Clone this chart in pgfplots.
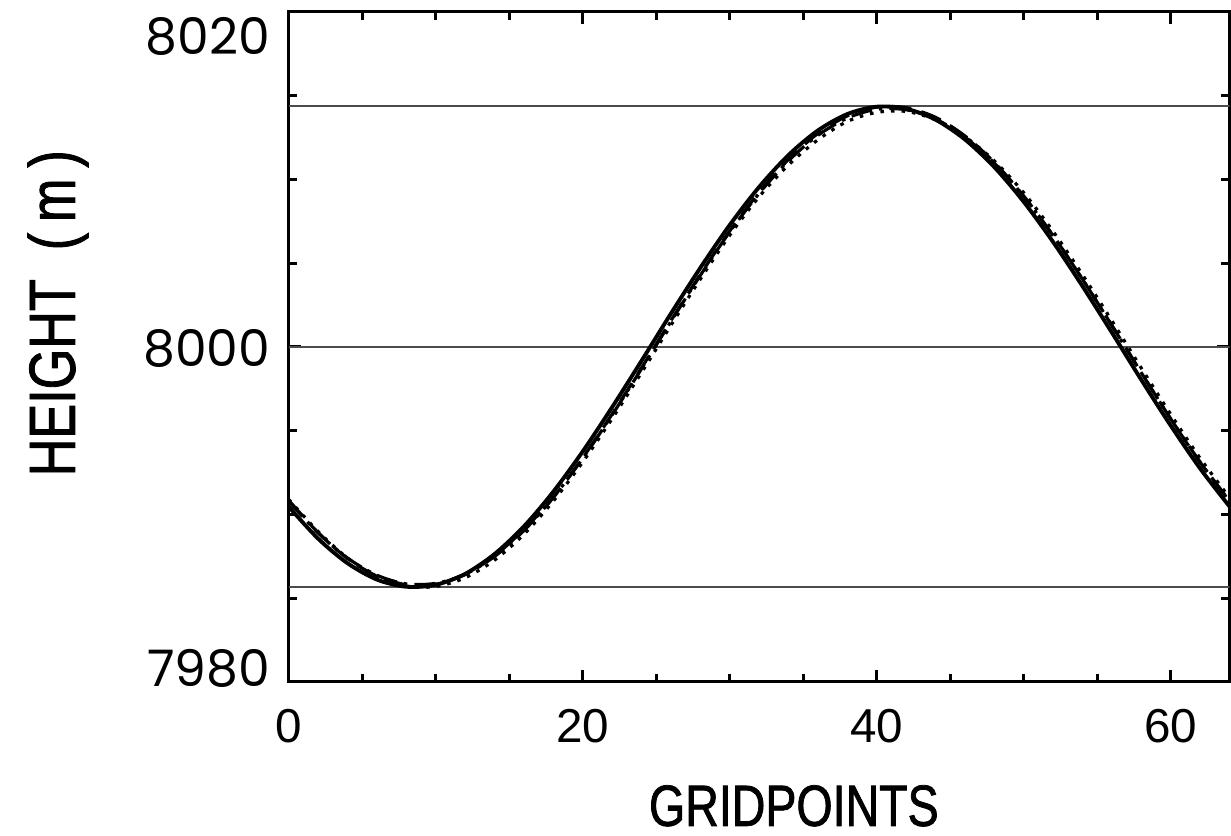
\documentclass[border=0pt]{standalone}
\usepackage{pgfplots}
\pgfplotsset{compat=1.18}
\usepackage{fontspec}
\setmainfont{Liberation Sans}
\newfontfamily\tickfont{Poppins}
\newfontfamily\labfont[FakeStretch=0.80, FakeBold=1.3]{Liberation Sans}

% height at each gridpoint (every second one), four runs
\pgfplotstableread{
x   ctl      dsh      dd       dot
0   7990.47  7990.85  7990.80  7990.90
2   7988.56  7988.92  7988.90  7988.99
4   7987.09  7987.37  7987.40  7987.40
6   7986.11  7986.32  7986.37  7986.29
8   7985.68  7985.80  7985.85  7985.72
10  7985.79  7985.83  7985.88  7985.69
12  7986.44  7986.40  7986.42  7986.21
14  7987.62  7987.51  7987.48  7987.26
16  7989.27  7989.09  7989.02  7988.80
18  7991.34  7991.00  7991.00  7990.78
20  7993.74  7993.36  7993.33  7993.11
22  7996.38  7995.97  7995.92  7995.70
24  7999.15  7998.73  7998.68  7998.45
26  8001.97  8001.55  8001.50  8001.27
28  8004.70  8004.30  8004.25  8004.03
30  8007.26  8006.90  8006.85  8006.65
32  8009.53  8009.21  8009.15  8008.95
34  8011.44  8011.18  8011.10  8010.85
36  8012.91  8012.73  8012.62  8012.35
38  8013.89  8013.78  8013.65  8013.45
40  8014.33  8014.31  8014.18  8013.99
42  8014.21  8014.27  8014.15  8014.05
44  8013.56  8013.70  8013.60  8013.55
46  8012.38  8012.59  8012.52  8012.55
48  8010.73  8011.01  8010.97  8011.10
50  8008.66  8009.00  8008.98  8009.20
52  8006.26  8006.64  8006.63  8006.89
54  8003.62  8004.03  8004.03  8004.30
56  8000.85  8001.27  8001.27  8001.55
58  7998.03  7998.45  7998.45  7998.73
60  7995.30  7995.70  7995.70  7995.97
62  7992.74  7993.10  7993.12  7993.35
64  7990.47  7990.79  7990.80  7991.00
}\runs

\begin{document}
\begin{tikzpicture}
\begin{axis}[scale only axis, width=93.8mm, height=66.8mm,
  xmin=0, xmax=64, ymin=7980, ymax=8020,
  axis line style={line width=0.85pt}, tick style={black, line width=0.85pt},
  xtick={0,20,40,60}, xticklabels={0,20,40,60}, minor x tick num=3,
  ytick={7980,8000,8020},
  yticklabels={\raisebox{-0.45mm}[0pt][0pt]{7980},\raisebox{-1.95mm}[0pt][0pt]{8000},\raisebox{-4.25mm}[0pt][0pt]{8020}},
  minor y tick num=3,
  major tick length=1.2mm, minor tick length=0.8mm,
  xticklabel style={font=\fontsize{13.5}{15}\selectfont, yshift=-1.5mm},
  yticklabel style={font=\tickfont\fontsize{14.3}{15}\selectfont, xshift=-0.6mm},
  xlabel={GRIDPOINTS}, ylabel={HEIGHT~~(\,m\,)},
  xlabel style={font=\labfont\fontsize{16.5}{18}\selectfont,
    at={(axis description cs:0.537,-0.185)}, anchor=center, inner ysep=0.9mm},
  ylabel style={font=\labfont\fontsize{18.5}{20}\selectfont,
    at={(axis description cs:-0.245,0.55)}, anchor=center, inner ysep=2.75mm},
  clip=true]
\addplot[black!70, line width=0.6pt] coordinates {(0,8014.35) (64,8014.35)};
\addplot[black!70, line width=0.6pt] coordinates {(0,8000) (64,8000)};
\addplot[black!70, line width=0.6pt] coordinates {(0,7985.65) (64,7985.65)};
\addplot[black, line width=0.9pt, smooth, dash pattern=on 1pt off 2pt] table[x=x, y=dot] {\runs};
\addplot[black, line width=0.9pt, smooth, dash pattern=on 6pt off 2pt on 1pt off 2pt] table[x=x, y=dd] {\runs};
\addplot[black, line width=0.9pt, smooth, dash pattern=on 6pt off 3pt] table[x=x, y=dsh] {\runs};
\addplot[black, line width=1.1pt, smooth] table[x=x, y=ctl] {\runs};
\end{axis}
\end{tikzpicture}
\end{document}
